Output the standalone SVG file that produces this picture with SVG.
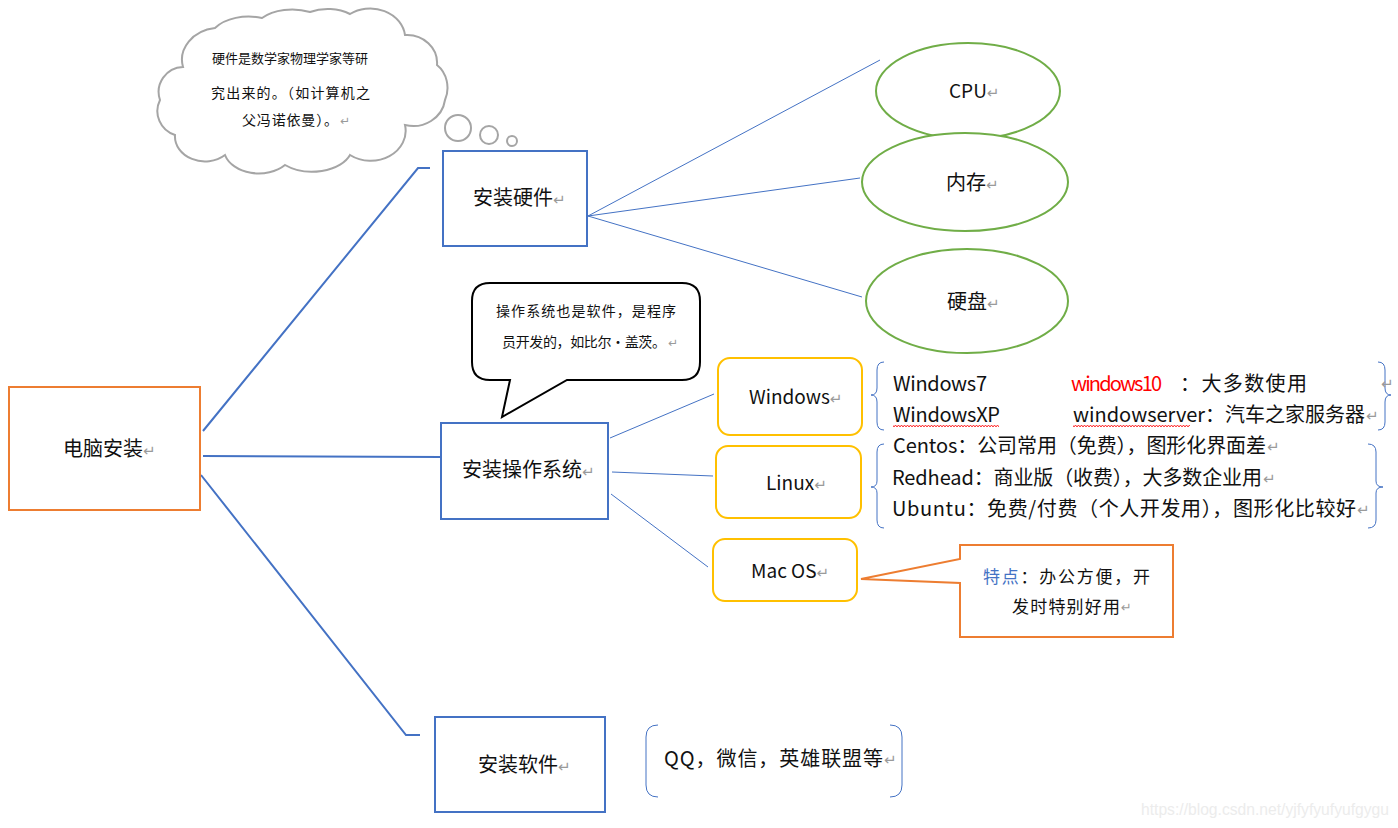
<svg xmlns="http://www.w3.org/2000/svg" width="1398" height="828" viewBox="0 0 1398 828">
<style>
text{font-family:"Noto Sans CJK SC","Microsoft YaHei",sans-serif;fill:#111;}
.t20{font-size:20px;}
.t19{font-size:19px;}
.ret{fill:#9a9a9a;font-family:"DejaVu Sans",sans-serif;font-size:15px;}
.blue2{fill:none;stroke:#4472C4;stroke-width:2;}
.blue1{fill:none;stroke:#4472C4;stroke-width:1;}
.box{fill:#fff;stroke:#4472C4;stroke-width:2;}
.orange{fill:#fff;stroke:#ED7D31;stroke-width:2;}
.green{fill:#fff;stroke:#70AD47;stroke-width:2;}
.yellow{fill:#fff;stroke:#FFC000;stroke-width:2;}
.gray{fill:#fff;stroke:#A5A5A5;stroke-width:2;}
</style>
<defs>
<pattern id="wave" width="6" height="4" patternUnits="userSpaceOnUse"><path d="M0,3 L1.5,1 L3,3 L4.5,1 L6,3" fill="none" stroke="#f00" stroke-width="0.8"/></pattern>
</defs>
<rect width="1398" height="828" fill="#fff"/>

<g id="connectors">
<polyline class="blue2" points="203,431 418,168 430,168"/>
<line class="blue2" x1="203" y1="456" x2="441" y2="457"/>
<polyline class="blue2" points="201,475 406,735 420,735"/>
<line class="blue1" x1="588" y1="216" x2="880" y2="60"/>
<line class="blue1" x1="588" y1="216" x2="860" y2="178"/>
<line class="blue1" x1="588" y1="216" x2="862" y2="297"/>
<line class="blue1" x1="610" y1="438" x2="714" y2="394"/>
<line class="blue1" x1="612" y1="472" x2="713" y2="476"/>
<line class="blue1" x1="611" y1="494" x2="708" y2="567"/>
</g>

<g id="root">
<rect class="orange" x="9" y="387" width="191" height="123"/>
<text class="t20" x="63" y="456">电脑安装<tspan class="ret">↵</tspan></text>
</g>

<g id="hardware">
<rect class="box" x="443" y="151" width="144" height="95"/>
<text class="t20" x="473" y="205">安装硬件<tspan class="ret">↵</tspan></text>
</g>

<g id="os">
<rect class="box" x="441" y="423" width="167" height="96"/>
<text class="t20" x="462" y="477">安装操作系统<tspan class="ret">↵</tspan></text>
</g>

<g id="software">
<rect class="box" x="435" y="717" width="170" height="95"/>
<text class="t20" x="478" y="772">安装软件<tspan class="ret">↵</tspan></text>
</g>

<g id="cloud">
<path class="gray" d="M183,67 A38,32 0 0 1 215,28 A40,25 0 0 1 262,18 A38,22 0 0 1 310,12 A35,22 0 0 1 350,14 A35,30 0 0 1 405,35 A30,28 0 0 1 437,65 A25,28 0 0 1 445,100 A32,30 0 0 1 405,125 A35,30 0 0 1 350,155 A40,25 0 0 1 285,165 A35,25 0 0 1 225,155 A30,25 0 0 1 175,135 A25,25 0 0 1 160,100 A25,25 0 0 1 183,67 Z"/>
<circle class="gray" cx="458" cy="128" r="13"/>
<circle class="gray" cx="489" cy="135" r="9"/>
<circle class="gray" cx="512" cy="141" r="5"/>
<text x="212" y="63" style="font-size:13px" textLength="156">硬件是数学家物理学家等研</text>
<text x="211" y="98" style="font-size:14px" textLength="159">究出来的。（如计算机之</text>
<text x="242" y="125" style="font-size:14px" textLength="96">父冯诺依曼）。</text>
<text class="ret" x="340" y="125" style="font-size:12px">↵</text>
</g>

<g id="bubble">
<path d="M490,283 H682 Q700,283 700,301 V362 Q700,380 682,380 H567 L502,417 L510,380 H490 Q472,380 472,362 V301 Q472,283 490,283 Z" fill="#fff" stroke="#000" stroke-width="2"/>
<text x="496" y="316" style="font-size:14px" textLength="180">操作系统也是软件，是程序</text>
<text x="502" y="347" style="font-size:14px" textLength="164">员开发的，如比尔·盖茨。</text>
<text class="ret" x="668" y="347" style="font-size:12px">↵</text>
</g>

<g id="cpu">
<ellipse class="green" cx="968" cy="91" rx="92" ry="48"/>
<text class="t19" x="949" y="98">CPU<tspan class="ret">↵</tspan></text>
</g>
<g id="memory">
<ellipse class="green" cx="965" cy="182" rx="103" ry="49"/>
<text class="t20" x="946" y="190">内存<tspan class="ret">↵</tspan></text>
</g>
<g id="disk">
<ellipse class="green" cx="967" cy="301" rx="101" ry="52"/>
<text class="t20" x="947" y="309">硬盘<tspan class="ret">↵</tspan></text>
</g>

<g id="windows">
<rect class="yellow" x="718" y="358" width="144" height="77" rx="12"/>
<text class="t19" x="749" y="404">Windows<tspan class="ret">↵</tspan></text>
</g>
<g id="linux">
<rect class="yellow" x="716" y="446" width="145" height="72" rx="12"/>
<text class="t19" x="766" y="490">Linux<tspan class="ret">↵</tspan></text>
</g>
<g id="macos">
<rect class="yellow" x="713" y="539" width="144" height="62" rx="12"/>
<text class="t19" x="751" y="578">Mac OS<tspan class="ret">↵</tspan></text>
</g>

<g id="windows-list">
<path class="blue1" d="M884,362 Q877,362 877,370 V388 Q877,395 871,395 Q877,395 877,402 V422 Q877,430 884,430"/>
<path class="blue1" d="M1378,362 Q1385,362 1385,370 V388 Q1385,395 1391,395 Q1385,395 1385,402 V422 Q1385,430 1378,430"/>
<text class="t20" x="893" y="391" textLength="94">Windows7</text>
<text class="t20" x="1071" y="391" style="fill:#FF0000" textLength="91">windows10</text>
<text class="t20" x="1180" y="391" textLength="127">：大多数使用</text>
<text class="ret" x="1381" y="389">↵</text>
<text class="t20" x="893" y="422" textLength="107">WindowsXP</text>
<rect x="893" y="424" width="106" height="4" fill="url(#wave)"/>
<text class="t20" x="1073" y="422" textLength="292">windowserver：汽车之家服务器</text>
<text class="ret" x="1366" y="421">↵</text>
<rect x="1073" y="424" width="117" height="4" fill="url(#wave)"/>
</g>

<g id="linux-list">
<path class="blue1" d="M884,444 Q877,444 877,452 V481 Q877,487 871,487 Q877,487 877,493 V520 Q877,528 884,528"/>
<path class="blue1" d="M1368,444 Q1376,444 1376,452 V481 Q1376,487 1383,487 Q1376,487 1376,493 V520 Q1376,528 1368,528"/>
<text class="t20" x="893" y="453" textLength="373">Centos：公司常用（免费），图形化界面差</text>
<text class="ret" x="1267" y="452">↵</text>
<text class="t20" x="892" y="485" textLength="370">Redhead：商业版（收费），大多数企业用</text>
<text class="ret" x="1263" y="484">↵</text>
<text class="t20" x="892" y="516" textLength="464">Ubuntu：免费/付费（个人开发用），图形化比较好</text>
<text class="ret" x="1357" y="515">↵</text>
</g>

<g id="mac-note">
<path class="orange" d="M960,545 H1173 V637 H960 V583 L861,579 L960,559 Z"/>
<text x="983" y="583" style="font-size:17px" textLength="167"><tspan style="fill:#4472C4">特点</tspan>：办公方便，开</text>
<text x="1012" y="613" style="font-size:17px" textLength="108">发时特别好用</text>
<text class="ret" x="1121" y="612" style="font-size:13px">↵</text>
</g>

<g id="software-list">
<path class="blue1" d="M658,725 Q646,725 646,737 V785 Q646,797 658,797"/>
<path class="blue1" d="M890,725 Q902,725 902,737 V785 Q902,797 890,797"/>
<text class="t20" x="664" y="766" textLength="219">QQ，微信，英雄联盟等</text>
<text class="ret" x="884" y="765">↵</text>
</g>

<text x="1141" y="815" style="font-family:'Liberation Sans',sans-serif;font-size:16px;fill:#ececec" textLength="248" lengthAdjust="spacingAndGlyphs">https://blog.csdn.net/yjfyfyufyufgygu</text>
</svg>
